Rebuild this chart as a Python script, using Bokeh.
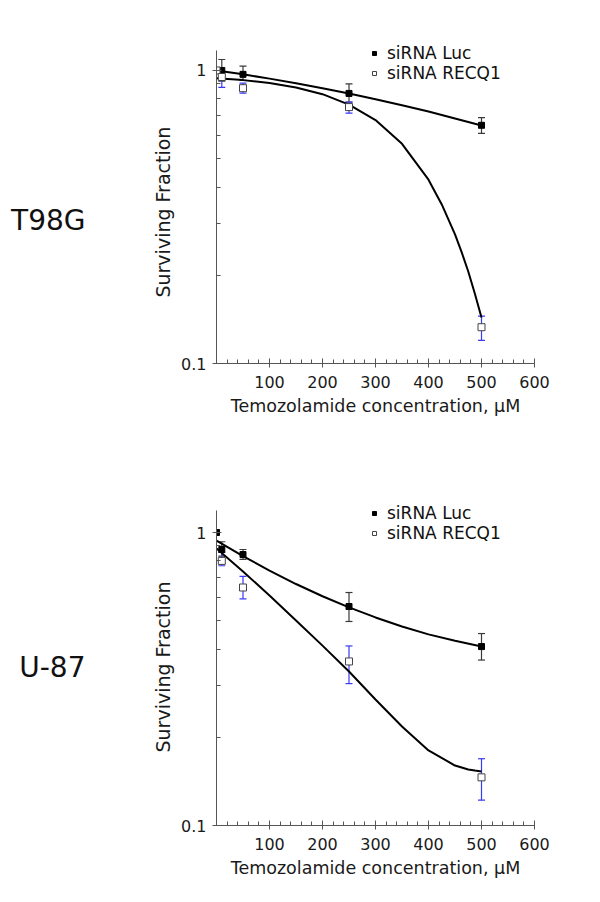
from bokeh.plotting import figure
from bokeh.models import (ColumnDataSource, FixedTicker, Whisker, TeeHead, Legend,
                          LegendItem, CustomJSTickFormatter, Range1d, LinearAxis)
from bokeh.layouts import column
from bokeh.embed import file_html
from bokeh.resources import INLINE

# ---------------- data ----------------
x_ticks = [100, 200, 300, 400, 500, 600]
x_minor = [20, 40, 60, 80, 120, 140, 160, 180, 220, 240, 260, 280, 320, 340, 360, 380,
           420, 440, 460, 480, 520, 540, 560, 580]
y_ticks = [0.1, 1]
y_minor = [0.2, 0.3, 0.4, 0.5, 0.6, 0.7, 0.8, 0.9]

# T98G
t98g_luc_x = [0, 10, 50, 250, 500]
t98g_luc = [1.0, 1.0, 0.97, 0.835, 0.65]
t98g_luc_hi = [1.0, 1.09, 1.035, 0.90, 0.69]
t98g_luc_lo = [1.0, 0.92, 0.925, 0.78, 0.61]
t98g_recq1_x = [0, 10, 50, 250, 500]
t98g_recq1 = [1.0, 0.95, 0.87, 0.75, 0.133]
t98g_recq1_hi = [1.0, 0.99, 0.905, 0.78, 0.145]
t98g_recq1_lo = [1.0, 0.875, 0.837, 0.715, 0.12]

t98g_luc_fit_x = [0, 50, 100, 150, 200, 250, 300, 350, 400, 450, 500]
t98g_luc_fit = [1.0, 0.970, 0.938, 0.905, 0.870, 0.835, 0.798, 0.761, 0.724, 0.686, 0.649]
t98g_recq1_fit_x = [0, 50, 100, 150, 200, 250, 300, 350, 400, 425, 450, 462.5, 475, 487.5, 500]
t98g_recq1_fit = [0.941, 0.927, 0.906, 0.875, 0.830, 0.765, 0.677, 0.562, 0.424, 0.349,
                  0.276, 0.240, 0.206, 0.173, 0.1435]

# U-87
u87_luc_x = [0, 10, 50, 250, 500]
u87_luc = [1.0, 0.875, 0.841, 0.559, 0.408]
u87_luc_hi = [1.0, 0.93, 0.875, 0.624, 0.452]
u87_luc_lo = [1.0, 0.83, 0.81, 0.497, 0.367]
u87_recq1_x = [10, 50, 250, 500]
u87_recq1 = [0.80, 0.649, 0.363, 0.146]
u87_recq1_hi = [0.855, 0.708, 0.41, 0.169]
u87_recq1_lo = [0.77, 0.594, 0.305, 0.122]

u87_luc_fit_x = [0, 50, 100, 150, 200, 250, 300, 350, 400, 450, 500]
u87_luc_fit = [0.939, 0.831, 0.741, 0.667, 0.606, 0.555, 0.513, 0.478, 0.449, 0.427, 0.408]
u87_recq1_fit_x = [0, 50, 100, 150, 200, 250, 300, 350, 400, 450, 475, 487.5, 500]
u87_recq1_fit = [0.882, 0.736, 0.610, 0.501, 0.411, 0.3354, 0.2692, 0.2177, 0.1803, 0.1602,
                 0.1553, 0.154, 0.1529]

FONT = "DejaVu Sans"
AX = "#555555"
BLUE = "#3a3af5"
DARK = "#3a3a3a"
NBSP = "\u00a0"


def whisker_source(xs, hi, lo):
    keep = [i for i in range(len(xs)) if hi[i] != lo[i]]
    return ColumnDataSource(dict(x=[xs[i] for i in keep], hi=[hi[i] for i in keep],
                                 lo=[lo[i] for i in keep]))


def make_panel(name, name_line_height, ylabel_pad, height, border_top, border_bottom, ytop,
               yaxis_top, lx, lhi, llo, ly, rx, rhi, rlo, ry, lfx, lfy, rfx, rfy, legend_y):
    p = figure(width=578, height=height, x_axis_type="linear", y_axis_type="log",
               x_range=Range1d(0, 600), y_range=Range1d(0.1, ytop),
               output_backend="svg", toolbar_location=None,
               min_border_left=216, min_border_right=44, min_border_top=border_top,
               min_border_bottom=border_bottom)
    p.outline_line_color = None
    p.xgrid.visible = False
    p.ygrid.visible = False
    p.background_fill_color = "white"

    # fitted curves
    p.line(lfx, lfy, line_color="black", line_width=2)
    p.line(rfx, rfy, line_color="black", line_width=2)

    # error bars
    for xs, hi, lo, col in ((lx, lhi, llo, DARK), (rx, rhi, rlo, BLUE)):
        src = whisker_source(xs, hi, lo)
        w = Whisker(source=src, base="x", upper="hi", lower="lo", line_color=col,
                    line_width=1.2, level="underlay",
                    upper_head=TeeHead(size=7, line_color=col, line_width=1.2),
                    lower_head=TeeHead(size=7, line_color=col, line_width=1.2))
        p.add_layout(w)

    r_luc = p.scatter(lx, ly, marker="square", size=6, fill_color="black",
                      line_color="black")
    r_rec = p.scatter(rx, ry, marker="square", size=7, fill_color="white",
                      line_color="#444444", line_width=1)

    legend = Legend(items=[LegendItem(label="siRNA Luc", renderers=[r_luc]),
                           LegendItem(label="siRNA RECQ1", renderers=[r_rec])],
                    location=(153, legend_y), glyph_width=10, glyph_height=20,
                    label_height=20, label_standoff=8, padding=0, margin=0, spacing=0,
                    border_line_color=None, background_fill_alpha=0,
                    label_text_font=FONT, label_text_font_size="17px",
                    label_text_color="#111111")
    p.add_layout(legend)

    # axes
    for ax in (p.xaxis[0], p.yaxis[0]):
        ax.axis_line_color = AX
        ax.major_tick_line_color = AX
        ax.minor_tick_line_color = AX
        ax.major_tick_in = 5
        ax.major_tick_out = 4
        ax.minor_tick_in = 4
        ax.minor_tick_out = 0
        ax.major_label_text_font = FONT
        ax.major_label_text_font_size = "16px"
        ax.major_label_text_color = "#1a1a1a"
        ax.axis_label_text_font = FONT
        ax.axis_label_text_font_style = "normal"
        ax.axis_label_text_color = "#1a1a1a"

    p.xaxis.ticker = FixedTicker(ticks=x_ticks, minor_ticks=x_minor)
    p.xaxis.axis_label = "Temozolamide concentration, \u03bcM"
    p.xaxis.axis_label_text_font_size = "17.5px"
    p.xaxis.major_label_standoff = 8
    p.xaxis.axis_label_standoff = 5

    p.yaxis.ticker = FixedTicker(ticks=y_ticks, minor_ticks=y_minor)
    p.yaxis.formatter = CustomJSTickFormatter(code="return String(tick);")
    p.yaxis.bounds = (0.1, yaxis_top)
    p.yaxis.axis_label = "Surviving Fraction" + NBSP * ylabel_pad
    p.yaxis.axis_label_text_font_size = "19px"
    p.yaxis.major_label_standoff = 6
    p.yaxis.axis_label_standoff = 4

    # panel (cell line) label as a bare extra axis on the left
    name_axis = LinearAxis(ticker=FixedTicker(ticks=[]), axis_label=name,
                           axis_line_color=None, major_tick_line_color=None,
                           minor_tick_line_color=None,
                           major_label_text_font_size="0px",
                           axis_label_orientation="horizontal",
                           axis_label_standoff=64,
                           axis_label_text_font=FONT, axis_label_text_font_size="28px",
                           axis_label_text_line_height=name_line_height,
                           axis_label_text_font_style="normal",
                           axis_label_text_color="#111111")
    p.add_layout(name_axis, "left")
    return p


p1 = make_panel("\nT98G", 1.22, 4, 468, 36, 105, 1.306, 1.17,
                t98g_luc_x, t98g_luc_hi, t98g_luc_lo, t98g_luc,
                t98g_recq1_x, t98g_recq1_hi, t98g_recq1_lo, t98g_recq1,
                t98g_luc_fit_x, t98g_luc_fit, t98g_recq1_fit_x, t98g_recq1_fit, 280)
p2 = make_panel("\nU-87", 0.4, 2, 418, 28, 61, 1.327, 1.19,
                u87_luc_x, u87_luc_hi, u87_luc_lo, u87_luc,
                u87_recq1_x, u87_recq1_hi, u87_recq1_lo, u87_recq1,
                u87_luc_fit_x, u87_luc_fit, u87_recq1_fit_x, u87_recq1_fit, 282)

layout = column(p1, p2)
open("out.html", "w").write(file_html(layout, INLINE))
